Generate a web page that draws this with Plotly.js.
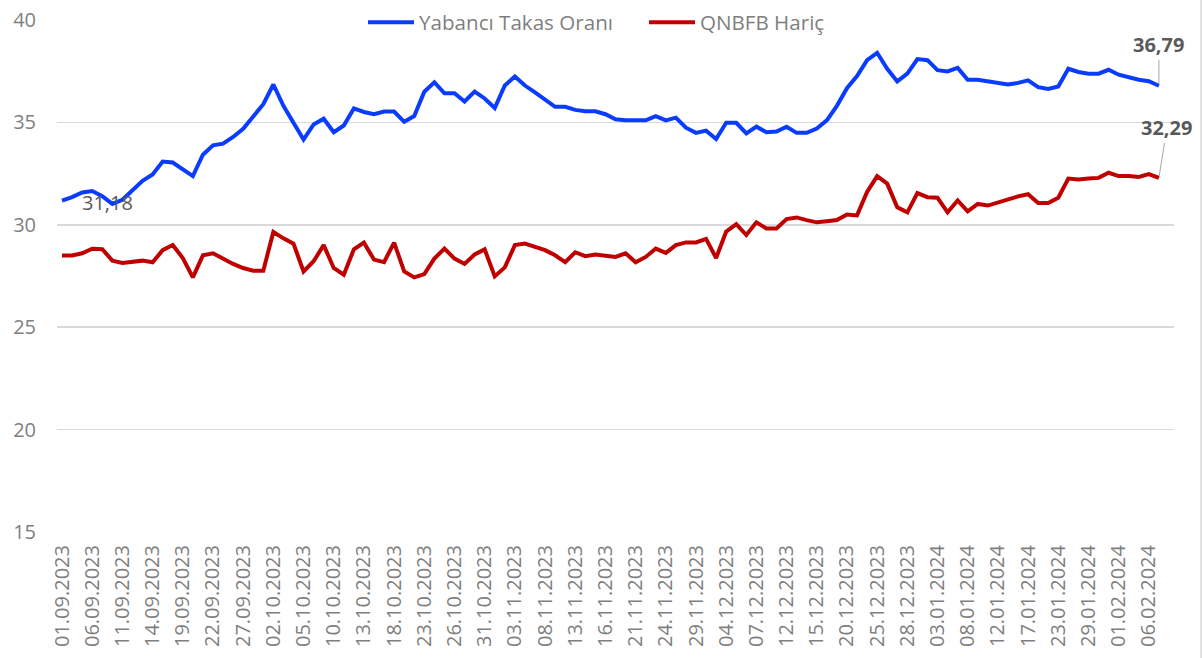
<!DOCTYPE html>
<html>
<head>
<meta charset="utf-8">
<script src="https://cdn.plot.ly/plotly-3.0.1.min.js"></script>
<style>html,body{margin:0;padding:0;background:#fff}#chart{width:1204px;height:658px}</style>
</head>
<body>
<div id="chart"></div>
<script>
// Tick labels (every third category on the axis)
var tickLabels = ["01.09.2023","06.09.2023","11.09.2023","14.09.2023","19.09.2023","22.09.2023","27.09.2023",
"02.10.2023","05.10.2023","10.10.2023","13.10.2023","18.10.2023","23.10.2023","26.10.2023","31.10.2023",
"03.11.2023","08.11.2023","13.11.2023","16.11.2023","21.11.2023","24.11.2023","29.11.2023",
"04.12.2023","07.12.2023","12.12.2023","15.12.2023","20.12.2023","25.12.2023","28.12.2023",
"03.01.2024","08.01.2024","12.01.2024","17.01.2024","23.01.2024","29.01.2024","01.02.2024","06.02.2024"];

var yabanci = [31.18,31.35,31.58,31.65,31.4,31.02,31.22,31.68,32.15,32.46,
33.09,33.04,32.7,32.38,33.42,33.88,33.96,34.29,34.69,35.31,
35.89,36.85,35.81,34.98,34.16,34.9,35.18,34.52,34.85,35.68,
35.51,35.4,35.53,35.53,35.03,35.31,36.5,36.96,36.42,36.42,
36.02,36.5,36.17,35.7,36.8,37.24,36.8,36.47,36.14,35.76,
35.76,35.61,35.54,35.54,35.4,35.15,35.1,35.1,35.1,35.31,
35.1,35.23,34.74,34.49,34.6,34.19,34.98,34.98,34.46,34.79,
34.52,34.55,34.79,34.49,34.49,34.7,35.1,35.81,36.67,37.26,
38.04,38.4,37.62,37.0,37.38,38.09,38.04,37.55,37.49,37.66,
37.08,37.08,37.0,36.96,36.85,36.93,37.05,36.72,36.63,36.75,
37.62,37.46,37.38,37.38,37.57,37.33,37.18,37.08,37.01,36.79];

var qnbfbHaric = [28.5,28.5,28.61,28.83,28.81,28.25,28.14,28.18,28.25,28.17,
28.76,29.01,28.38,27.43,28.51,28.61,28.35,28.09,27.89,27.76,
27.76,29.65,29.34,29.08,27.72,28.22,29.01,27.89,27.56,28.8,
29.13,28.3,28.18,29.13,27.72,27.43,27.59,28.35,28.84,28.35,
28.09,28.55,28.8,27.48,27.92,29.01,29.08,28.93,28.76,28.51,
28.18,28.66,28.47,28.55,28.5,28.43,28.61,28.17,28.43,28.84,
28.63,29.01,29.14,29.14,29.31,28.38,29.67,30.03,29.5,30.12,
29.82,29.82,30.28,30.36,30.23,30.12,30.17,30.23,30.5,30.46,
31.6,32.38,32.01,30.86,30.61,31.55,31.35,31.32,30.61,31.19,
30.66,31.02,30.94,31.1,31.22,31.39,31.49,31.06,31.06,31.32,
32.26,32.21,32.26,32.29,32.54,32.38,32.38,32.34,32.48,32.29];

var seriesNames = ["Yabancı Takas Oranı", "QNBFB Hariç"];
var tickStep = 3;        // one label every third category
var nCategories = 111;   // axis has one trailing empty category

var idx = yabanci.map(function(_, i){ return i; });
var tickVals = tickLabels.map(function(_, k){ return k * tickStep; });
function fmt(v){ return v.toFixed(2).replace('.', ','); }

var FONT = 'Open Sans, Liberation Sans, sans-serif';
var blue = '#0a3cff', red = '#c00000';

var traces = [
  {x: idx, y: yabanci, type: 'scatter', mode: 'lines', name: seriesNames[0],
   line: {color: blue, width: 4}, hoverinfo: 'skip'},
  {x: idx, y: qnbfbHaric, type: 'scatter', mode: 'lines', name: seriesNames[1],
   line: {color: red, width: 4}, hoverinfo: 'skip'}
];

var lastB = yabanci.length - 1, lastR = qnbfbHaric.length - 1;

var layout = {
  width: 1204, height: 658,
  margin: {l: 57, r: 30, t: 20, b: 126, autoexpand: false},
  paper_bgcolor: '#ffffff', plot_bgcolor: '#ffffff',
  font: {family: FONT, color: '#7f7f7f', size: 20},
  showlegend: true,
  legend: {orientation: 'h', xref: 'container', yref: 'container',
           x: 0.3015, xanchor: 'left', y: 0.966, yanchor: 'middle',
           bgcolor: 'rgba(0,0,0,0)', font: {family: FONT, size: 20.6, color: '#7f7f7f'},
           itemwidth: 46, entrywidth: 220, entrywidthmode: 'pixels', tracegroupgap: 0},
  xaxis: {
    range: [-0.5, nCategories - 0.5], tickmode: 'array', tickvals: tickVals, ticktext: tickLabels,
    tickangle: -90, tickfont: {family: FONT, size: 20, color: '#7f7f7f'},
    showgrid: false, zeroline: false, showline: false, ticks: '', ticklabelstandoff: 8,
    fixedrange: true
  },
  yaxis: {
    range: [15, 40], tickmode: 'linear', tick0: 15, dtick: 5,
    tickfont: {family: FONT, size: 20, color: '#7f7f7f'},
    showgrid: true, gridcolor: '#d9d9d9', gridwidth: 1.5, zeroline: false, showline: false,
    ticks: '', ticklabelstandoff: 20, fixedrange: true
  },
  shapes: [
    {type: 'line', xref: 'paper', yref: 'paper', x0: 1.0242, x1: 1.0242, y0: -0.25, y1: 1.05,
     line: {color: '#d9d9d9', width: 1.5}}
  ],
  annotations: [
    {x: 0, y: yabanci[0], xref: 'x', yref: 'y', text: fmt(yabanci[0]), showarrow: false,
     xshift: 45, yshift: -2, font: {family: FONT, size: 20, color: '#595959'}},
    {x: lastB, y: yabanci[lastB], xref: 'x', yref: 'y', text: '<b>' + fmt(yabanci[lastB]) + '</b>',
     showarrow: true, arrowhead: 0, arrowwidth: 1, arrowcolor: '#a6a6a6', standoff: 2,
     ax: 0, ay: -41, font: {family: FONT, size: 20, color: '#595959'}},
    {x: lastR, y: qnbfbHaric[lastR], xref: 'x', yref: 'y', text: '<b>' + fmt(qnbfbHaric[lastR]) + '</b>',
     showarrow: true, arrowhead: 0, arrowwidth: 1, arrowcolor: '#a6a6a6', standoff: 2,
     ax: 8, ay: -50, font: {family: FONT, size: 20, color: '#595959'}}
  ]
};

Plotly.newPlot('chart', traces, layout, {displayModeBar: false, staticPlot: true});
</script>
</body>
</html>
